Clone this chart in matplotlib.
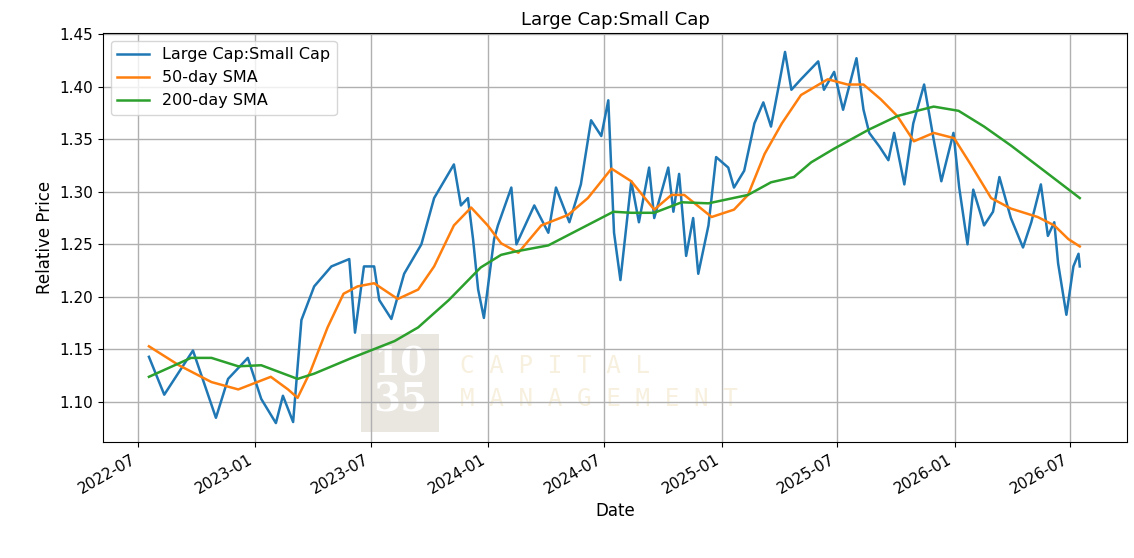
import matplotlib
matplotlib.use("Agg")
import matplotlib.pyplot as plt
import matplotlib.dates as mdates
import pandas as pd

price_dates = ["2022-07-18","2022-08-11","2022-09-25","2022-10-31","2022-11-19","2022-12-20","2023-01-10","2023-02-02","2023-02-13","2023-03-01","2023-03-14","2023-04-03","2023-04-30","2023-05-28","2023-06-06","2023-06-20","2023-07-06","2023-07-14","2023-08-02","2023-08-22","2023-09-18","2023-10-08","2023-11-08","2023-11-19","2023-11-30","2023-12-08","2023-12-16","2023-12-25","2024-01-10","2024-01-16","2024-02-06","2024-02-14","2024-03-13","2024-04-04","2024-04-16","2024-05-07","2024-05-25","2024-06-10","2024-06-26","2024-07-07","2024-07-16","2024-07-26","2024-08-12","2024-08-24","2024-09-09","2024-09-17","2024-10-09","2024-10-17","2024-10-26","2024-11-06","2024-11-17","2024-11-25","2024-12-11","2024-12-23","2025-01-11","2025-01-20","2025-02-05","2025-02-21","2025-03-07","2025-03-19","2025-03-30","2025-04-10","2025-04-20","2025-05-05","2025-06-01","2025-06-10","2025-06-26","2025-07-10","2025-07-31","2025-08-11","2025-08-20","2025-09-05","2025-09-19","2025-09-28","2025-10-14","2025-10-28","2025-11-14","2025-11-28","2025-12-11","2025-12-30","2026-01-08","2026-01-21","2026-01-30","2026-02-16","2026-03-02","2026-03-12","2026-03-30","2026-04-18","2026-05-01","2026-05-16","2026-05-27","2026-06-06","2026-06-12","2026-06-25","2026-07-06","2026-07-14","2026-07-16"]
price_vals = [1.143,1.107,1.149,1.085,1.122,1.142,1.103,1.080,1.106,1.081,1.178,1.210,1.229,1.236,1.166,1.229,1.229,1.197,1.179,1.222,1.250,1.294,1.326,1.287,1.294,1.255,1.207,1.180,1.255,1.268,1.304,1.250,1.287,1.261,1.304,1.271,1.307,1.368,1.353,1.387,1.261,1.216,1.310,1.271,1.323,1.275,1.323,1.281,1.317,1.239,1.275,1.222,1.268,1.333,1.323,1.304,1.320,1.365,1.385,1.362,1.397,1.433,1.397,1.407,1.424,1.397,1.414,1.378,1.427,1.378,1.356,1.343,1.330,1.356,1.307,1.365,1.402,1.353,1.310,1.356,1.304,1.250,1.302,1.268,1.281,1.314,1.275,1.247,1.271,1.307,1.258,1.271,1.232,1.183,1.229,1.241,1.229]

sma50_dates = ["2022-07-18","2022-09-03","2022-10-24","2022-12-05","2023-01-25","2023-02-21","2023-03-08","2023-03-28","2023-04-24","2023-05-19","2023-06-10","2023-07-06","2023-08-12","2023-09-13","2023-10-08","2023-11-08","2023-12-05","2023-12-31","2024-01-21","2024-02-17","2024-03-24","2024-05-05","2024-06-05","2024-07-12","2024-08-12","2024-09-17","2024-10-14","2024-11-03","2024-12-16","2025-01-20","2025-02-11","2025-03-09","2025-04-05","2025-05-05","2025-06-16","2025-07-17","2025-08-11","2025-09-07","2025-10-03","2025-10-29","2025-11-29","2025-12-31","2026-01-26","2026-02-27","2026-03-30","2026-05-11","2026-06-06","2026-06-28","2026-07-16"]
sma50_vals = [1.153,1.135,1.119,1.112,1.124,1.112,1.104,1.129,1.171,1.203,1.210,1.213,1.198,1.207,1.229,1.268,1.285,1.268,1.251,1.242,1.268,1.278,1.294,1.322,1.310,1.283,1.297,1.297,1.276,1.283,1.297,1.336,1.365,1.392,1.407,1.402,1.402,1.388,1.372,1.348,1.356,1.351,1.326,1.294,1.284,1.276,1.268,1.255,1.248]

sma200_dates = ["2022-07-18","2022-09-22","2022-10-24","2022-12-05","2023-01-10","2023-03-08","2023-04-03","2023-06-01","2023-08-07","2023-09-13","2023-10-31","2023-12-20","2024-01-21","2024-02-11","2024-04-04","2024-05-25","2024-07-15","2024-08-12","2024-09-17","2024-10-30","2024-12-11","2025-02-11","2025-03-19","2025-04-24","2025-05-21","2025-06-26","2025-08-19","2025-10-03","2025-11-03","2025-11-29","2026-01-07","2026-02-16","2026-03-30","2026-05-21","2026-07-16"]
sma200_vals = [1.124,1.142,1.142,1.134,1.135,1.122,1.127,1.142,1.158,1.171,1.197,1.228,1.240,1.243,1.249,1.265,1.281,1.280,1.280,1.290,1.289,1.297,1.309,1.314,1.328,1.341,1.359,1.372,1.377,1.381,1.377,1.362,1.344,1.320,1.294]

fig = plt.figure(figsize=(11.34, 5.58), dpi=100)
ax = fig.add_axes([103/1134, 1-442/558, (1127-103)/1134, (442-33)/558])
ax.plot(pd.to_datetime(price_dates), price_vals, color="#1f77b4", lw=1.8, label="Large Cap:Small Cap")
ax.plot(pd.to_datetime(sma50_dates), sma50_vals, color="#ff7f0e", lw=1.8, label="50-day SMA")
ax.plot(pd.to_datetime(sma200_dates), sma200_vals, color="#2ca02c", lw=1.8, label="200-day SMA")

ax.xaxis.set_major_locator(mdates.MonthLocator(bymonth=[1, 7]))
ax.xaxis.set_major_formatter(mdates.DateFormatter("%Y-%m"))
ax.set_yticks([1.10, 1.15, 1.20, 1.25, 1.30, 1.35, 1.40, 1.45])
ax.set_ylim(1.062, 1.451)
ax.set_xlim(pd.Timestamp("2022-05-07"), pd.Timestamp("2026-09-28"))
for lbl in ax.get_xticklabels():
    lbl.set_rotation(30); lbl.set_ha("right")
ax.tick_params(labelsize=11)
ax.grid(True, color="#b0b0b0", lw=1)
ax.set_title("Large Cap:Small Cap", fontsize=13)
ax.set_xlabel("Date", fontsize=12)
ax.set_ylabel("Relative Price", fontsize=12)
ax.legend(loc="upper left", fontsize=11.5)

# watermark
ax.text(0.29, 0.145, "10\n35", transform=ax.transAxes, fontsize=28, family="DejaVu Serif",
        color="white", fontweight="bold", va="center", ha="center", linespacing=0.95,
        bbox=dict(boxstyle="square,pad=0.3", fc="#d9d2c8", ec="none", alpha=0.55), zorder=0)
ax.text(0.349, 0.145, "C A P I T A L\nM A N A G E M E N T", transform=ax.transAxes, fontsize=17.5,
        family="DejaVu Sans Mono", color="#f3e6c8", alpha=0.6, va="center", ha="left", linespacing=1.5, zorder=0)
fig.savefig("out.png")
